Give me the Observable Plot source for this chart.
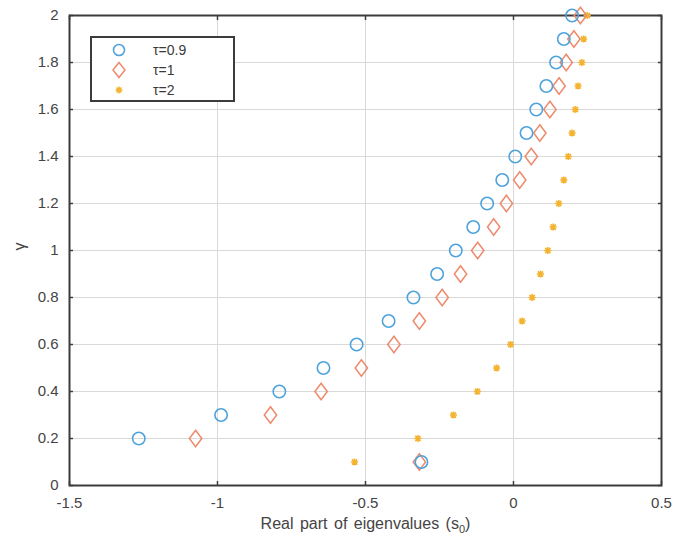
<!DOCTYPE html>
<html>
<head>
<meta charset="utf-8">
<script src="https://cdn.jsdelivr.net/npm/d3@7"></script>
<script src="https://cdn.jsdelivr.net/npm/@observablehq/plot@0.6"></script>
<style>
  body { margin: 0; background: #fff; }
  #wrap { position: relative; width: 682px; height: 551px; font-family: "Liberation Sans", Arial, sans-serif; }
  #legend { position: absolute; left: 90px; top: 36px; width: 145px; height: 66px; border: 2px solid #3c3c3c; background: #fff; box-sizing: border-box; }
  .row { position: absolute; left: 0; height: 20px; display: flex; align-items: center; font-size: 14px; color: #3a3a3a; }
  .row svg { margin-left: 17px; width: 20px; height: 20px; }
  .row span { margin-left: 24px; }
</style>
</head>
<body>
<div id="wrap"></div>
<script>
const gamma = [0.1,0.2,0.3,0.4,0.5,0.6,0.7,0.8,0.9,1.0,1.1,1.2,1.3,1.4,1.5,1.6,1.7,1.8,1.9,2.0];
const tau09 = [-0.311,-1.266,-0.988,-0.791,-0.642,-0.530,-0.422,-0.338,-0.258,-0.195,-0.136,-0.089,-0.038,0.006,0.044,0.077,0.111,0.144,0.170,0.198];
const tau1  = [-0.318,-1.074,-0.821,-0.650,-0.514,-0.404,-0.318,-0.241,-0.179,-0.121,-0.067,-0.024,0.021,0.060,0.089,0.123,0.154,0.178,0.204,0.226];
const tau2  = [-0.537,-0.323,-0.203,-0.122,-0.057,-0.010,0.029,0.063,0.091,0.116,0.134,0.153,0.170,0.185,0.198,0.209,0.218,0.231,0.237,0.249];
const seriesNames = ["τ=0.9", "τ=1", "τ=2"];
const xTicks = [-1.5, -1, -0.5, 0, 0.5];
const yTicks = [0, 0.2, 0.4, 0.6, 0.8, 1, 1.2, 1.4, 1.6, 1.8, 2];
const xLabelMain = "Real part of eigenvalues (s";
const xLabelSub = "0";
const xLabelEnd = ")";
const yLabel = "γ";

const colors = {"τ=0.9": "#4fa3dd", "τ=1": "#ee8a6b", "τ=2": "#f4b431"};

const diamondSym = {
  draw(ctx, size) {
    const r = Math.sqrt(size / Math.PI);
    const w = r, h = r * 1.33;
    ctx.moveTo(0, -h); ctx.lineTo(w, 0); ctx.lineTo(0, h); ctx.lineTo(-w, 0); ctx.closePath();
  }
};
const starSym = {
  draw(ctx, size) {
    const r = Math.sqrt(size / Math.PI);
    const d = r * 0.72;
    ctx.moveTo(-r, 0); ctx.lineTo(r, 0);
    ctx.moveTo(0, -r); ctx.lineTo(0, r);
    ctx.moveTo(-d, -d); ctx.lineTo(d, d);
    ctx.moveTo(-d, d); ctx.lineTo(d, -d);
  }
};

const rows = (vals, name) => gamma.map((g, i) => ({x: vals[i], y: g, s: name}));
const d09 = rows(tau09, seriesNames[0]);
const d1 = rows(tau1, seriesNames[1]);
const d2 = rows(tau2, seriesNames[2]);

const axisColor = "#3c3c3c";
const labelColor = "#444";
const chart = Plot.plot({
  width: 682,
  height: 551,
  marginLeft: 69,
  marginRight: 21,
  marginTop: 15,
  marginBottom: 66,
  style: {fontFamily: "Liberation Sans, Arial, sans-serif", fontSize: "15px", color: labelColor, background: "#fff"},
  x: {domain: [-1.5, 0.5]},
  y: {domain: [0, 2]},
  marks: [
    Plot.gridX(xTicks, {stroke: "#d9d9d9", strokeOpacity: 1, strokeWidth: 1}),
    Plot.gridY(yTicks, {stroke: "#d9d9d9", strokeOpacity: 1, strokeWidth: 1}),
    Plot.axisX(xTicks, {anchor: "bottom", tickSize: 0, tickPadding: 12, tickFormat: d => String(d), label: null, fontSize: 15}),
    Plot.axisX(xTicks, {anchor: "bottom", tickSize: -4, tickFormat: () => "", label: null, stroke: axisColor, strokeWidth: 1.5}),
    Plot.axisX(xTicks, {anchor: "top", tickSize: -4, tickFormat: () => "", label: null, stroke: axisColor, strokeWidth: 1.5}),
    Plot.axisY(yTicks, {anchor: "left", tickSize: 0, tickPadding: 11, tickFormat: d => String(d), label: null, fontSize: 15}),
    Plot.axisY(yTicks, {anchor: "left", tickSize: -4, tickFormat: () => "", label: null, stroke: axisColor, strokeWidth: 1.5}),
    Plot.axisY(yTicks, {anchor: "right", tickSize: -4, tickFormat: () => "", label: null, stroke: axisColor, strokeWidth: 1.5}),
    Plot.text([xLabelMain + xLabelSub + xLabelEnd], {frameAnchor: "bottom", dy: 43, fontSize: 16, fill: labelColor, className: "xlabel"}),
    Plot.text([yLabel], {frameAnchor: "left", dx: -50, rotate: -90, fontSize: 16, fill: labelColor}),
    Plot.frame({stroke: axisColor, strokeWidth: 2}),
    Plot.dot(d2, {x: "x", y: "y", symbol: starSym, r: 3.6, stroke: colors["τ=2"], strokeWidth: 1.6, fill: "none"}),
    Plot.dot(d1, {x: "x", y: "y", symbol: diamondSym, r: 6.2, stroke: colors["τ=1"], strokeWidth: 1.5, fill: "none"}),
    Plot.dot(d09, {x: "x", y: "y", symbol: "circle", r: 6.2, stroke: colors["τ=0.9"], strokeWidth: 1.6, fill: "none"})
  ]
});
const wrap = document.getElementById("wrap");
wrap.appendChild(chart);

// subscript for the x label
chart.querySelectorAll("text").forEach(t => {
  if (t.textContent === xLabelMain + xLabelSub + xLabelEnd) {
    t.textContent = "";
    const ns = "http://www.w3.org/2000/svg";
    const a = document.createElementNS(ns, "tspan"); a.textContent = xLabelMain;
    const b = document.createElementNS(ns, "tspan"); b.textContent = xLabelSub;
    b.setAttribute("font-size", "11"); b.setAttribute("dy", "4");
    const c = document.createElementNS(ns, "tspan"); c.textContent = xLabelEnd; c.setAttribute("dy", "-4");
    t.append(a, b, c);
    t.setAttribute("word-spacing", "2");
  }
});

// legend
const legend = document.createElement("div");
legend.id = "legend";
const icons = {
  "τ=0.9": `<circle cx="10" cy="10" r="5.5" fill="none" stroke="${colors["τ=0.9"]}" stroke-width="1.6"/>`,
  "τ=1": `<path d="M10,2.5L16,10L10,17.5L4,10Z" fill="none" stroke="${colors["τ=1"]}" stroke-width="1.5"/>`,
  "τ=2": `<path d="M6.5,10H13.5M10,6.5V13.5M7.5,7.5L12.5,12.5M7.5,12.5L12.5,7.5" stroke="${colors["τ=2"]}" stroke-width="1.6"/>`
};
seriesNames.forEach((n, i) => {
  const row = document.createElement("div");
  row.className = "row";
  row.style.top = (2 + i * 20) + "px";
  row.innerHTML = `<svg viewBox="0 0 20 20">${icons[n]}</svg><span>${n}</span>`;
  legend.appendChild(row);
});
wrap.appendChild(legend);
</script>
</body>
</html>
